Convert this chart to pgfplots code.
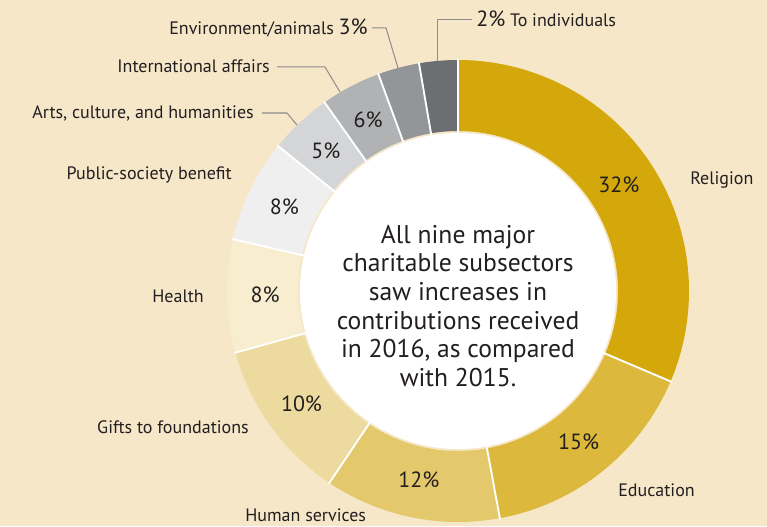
\documentclass[border=0pt]{standalone}
\usepackage{pgfplots}
\pgfplotsset{compat=1.18}
\usepackage{pgfplotstable}
\usepackage{fontspec}
\setmainfont{PT Sans}

\definecolor{bg}{RGB}{246,231,201}
\definecolor{txt}{RGB}{35,31,32}
\definecolor{lead}{RGB}{140,140,140}
\definecolor{cRel}{RGB}{212,168,10}
\definecolor{cEdu}{RGB}{220,185,60}
\definecolor{cHum}{RGB}{228,201,108}
\definecolor{cGif}{RGB}{237,218,158}
\definecolor{cHea}{RGB}{248,238,207}
\definecolor{cPub}{RGB}{239,239,239}
\definecolor{cArt}{RGB}{212,213,215}
\definecolor{cInt}{RGB}{176,178,180}
\definecolor{cEnv}{RGB}{147,149,152}
\definecolor{cInd}{RGB}{109,110,113}

\newcommand\lblfont{\fontsize{13.5}{15}\selectfont}
\newcommand\pctfont{\fontsize{16.5}{18}\selectfont}

% share = slice size, pct = printed label
\pgfplotstableread[col sep=comma]{
share,pct,inside,col
31.4,32,1,cRel
15.7,15,1,cEdu
12.3,12,1,cHum
11.3,10,1,cGif
7.9,8,1,cHea
7.2,8,1,cPub
4.4,5,1,cArt
4.2,6,1,cInt
2.9,3,0,cEnv
2.7,2,0,cInd
}\slices

\def\cx{458}\def\cy{235}
\def\Ro{231}\def\Ri{160}\def\Rm{193}
\def\Ropt{173.25pt}\def\Ript{120pt}

\begin{document}
\begin{tikzpicture}
\begin{axis}[
  x=0.75pt, y=0.75pt,
  xmin=0, xmax=767, ymin=0, ymax=526,
  hide axis, clip=false,
]
\fill[bg] (axis cs:0,0) rectangle (axis cs:767,526);
\coordinate (ll) at (axis cs:0,0);
\coordinate (ur) at (axis cs:767,526);

% slices
\pgfmathsetmacro{\acc}{90}
\pgfplotsforeachungrouped \i in {0,...,9}{%
  \pgfplotstablegetelem{\i}{share}\of\slices \let\sh\pgfplotsretval
  \pgfplotstablegetelem{\i}{col}\of\slices \let\cl\pgfplotsretval
  \pgfmathsetmacro{\aA}{\acc}
  \pgfmathsetmacro{\aB}{\acc-3.6*\sh}
  \pgfmathsetmacro{\xA}{\cx+\Ro*cos(\aA)}
  \pgfmathsetmacro{\yA}{\cy+\Ro*sin(\aA)}
  \pgfmathsetmacro{\xB}{\cx+\Ri*cos(\aB)}
  \pgfmathsetmacro{\yB}{\cy+\Ri*sin(\aB)}
  \edef\tmp{\noexpand\fill[\cl] (axis cs:\xA,\yA)
    arc[start angle=\aA, end angle=\aB, radius=\Ropt]
    -- (axis cs:\xB,\yB)
    arc[start angle=\aB, end angle=\aA, radius=\Ript] -- cycle;}
  \tmp
  \let\acc\aB
}

% white separators and percent labels
\pgfmathsetmacro{\acc}{90}
\pgfplotsforeachungrouped \i in {0,...,9}{%
  \pgfplotstablegetelem{\i}{share}\of\slices \let\sh\pgfplotsretval
  \pgfplotstablegetelem{\i}{pct}\of\slices \let\pc\pgfplotsretval
  \pgfplotstablegetelem{\i}{inside}\of\slices \let\ins\pgfplotsretval
  \pgfmathsetmacro{\aB}{\acc-3.6*\sh}
  \pgfmathsetmacro{\am}{(\acc+\aB)/2}
  \pgfmathsetmacro{\xa}{\cx+(\Ri-2)*cos(\acc)}
  \pgfmathsetmacro{\ya}{\cy+(\Ri-2)*sin(\acc)}
  \pgfmathsetmacro{\xb}{\cx+(\Ro+1)*cos(\acc)}
  \pgfmathsetmacro{\yb}{\cy+(\Ro+1)*sin(\acc)}
  \pgfmathsetmacro{\xm}{\cx+\Rm*cos(\am)}
  \pgfmathsetmacro{\ym}{\cy+\Rm*sin(\am)}
  \edef\tmp{\noexpand\draw[white, line width=1.4pt] (axis cs:\xa,\ya) -- (axis cs:\xb,\yb);}
  \tmp
  \ifnum\ins=1
    \edef\tmp{\noexpand\node[text=txt, font=\noexpand\pctfont] at (axis cs:\xm,\ym) {\pc\noexpand\%};}
    \tmp
  \fi
  \let\acc\aB
}

\fill[white] (axis cs:\cx,\cy) circle[radius=118.5pt];
\node[text=txt, align=center, font=\fontsize{19.2}{21.5}\selectfont]
  at (axis cs:\cx,220) {All nine major\\charitable subsectors\\saw increases in\\contributions received\\in 2016, as compared\\with 2015.};

% outer labels
\begin{scope}[every node/.style={text=txt, font=\lblfont, inner sep=0pt}]
\node[anchor=base west] at (axis cs:690,342) {Religion};
\node[anchor=base west] at (axis cs:618,30) {Education};
\node[anchor=base west] at (axis cs:245,5) {Human services};
\node[anchor=base east] at (axis cs:249,93) {Gifts to foundations};
\node[anchor=base east] at (axis cs:204,224) {Health};
\node[anchor=base east] at (axis cs:232,347) {Public-society benefit};
\node[anchor=base east] at (axis cs:254,407) {Arts, culture, and humanities};
\node[anchor=base east] at (axis cs:270,453) {International affairs};
\node[anchor=base east] at (axis cs:368,491) {Environment/animals {\pctfont 3\%}};
\node[anchor=base west] at (axis cs:476,499) {{\pctfont 2\%} To individuals};
\end{scope}

% leader lines
\draw[lead, line width=0.75pt] (axis cs:262,413) -- (axis cs:287,413) -- (axis cs:297,401);
\draw[lead, line width=0.75pt] (axis cs:277,459) -- (axis cs:325,459) -- (axis cs:340,434);
\draw[lead, line width=0.75pt] (axis cs:372,498) -- (axis cs:386,498) -- (axis cs:398,458);
\draw[lead, line width=0.75pt] (axis cs:472,506) -- (axis cs:437,506) -- (axis cs:437,465);
\end{axis}
\pgfresetboundingbox
\useasboundingbox (ll) rectangle (ur);
\end{tikzpicture}
\end{document}
